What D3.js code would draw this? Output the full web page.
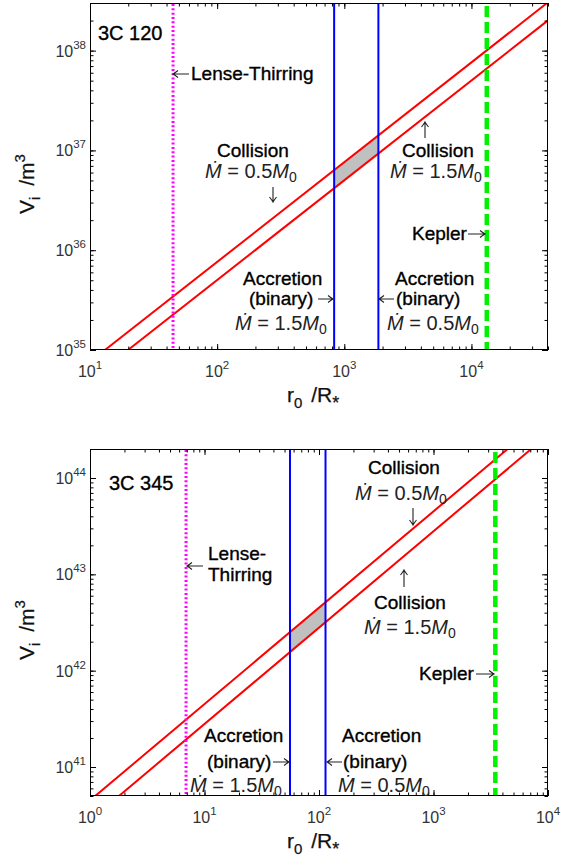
<!DOCTYPE html>
<html>
<head>
<meta charset="utf-8">
<script src="https://cdn.jsdelivr.net/npm/d3@7"></script>
<style>
  body { margin: 0; background: #fff; }
  svg { display: block; }
  text { font-family: "Liberation Sans", Arial, sans-serif; }
</style>
</head>
<body>
<svg id="chart" width="561" height="865"></svg>
<script>
// ---- 3C 120 (upper panel) ----
const topXDomain = [10, 4e4];
const topYDomain = [1e35, 3e38];
const topXTicks = [1, 2, 3, 4];
const topYTicks = [35, 36, 37, 38];
const topLowRateR = [13.1, 4e4];      // collision, Mdot = 0.5 M0
const topLowRateV = [1e35, 3.05e38];
const topHighRateR = [19.9, 4e4];     // collision, Mdot = 1.5 M0
const topHighRateV = [1e35, 2.01e38];
const topAccretion = [832, 1854];     // binary accretion, 1.5 M0 and 0.5 M0
const topLense = 45;
const topKepler = 13200;

// ---- 3C 345 (lower panel) ----
const botXDomain = [1, 1e4];
const botYDomain = [5e40, 2e44];
const botXTicks = [0, 1, 2, 3, 4];
const botYTicks = [41, 42, 43, 44];
const botLowRateR = [1.11, 4440];
const botLowRateV = [5e40, 2e44];
const botHighRateR = [1.79, 7140];
const botHighRateV = [5e40, 2e44];
const botAccretion = [55.8, 114];
const botLense = 6.9;
const botKepler = 3467;

const LEFT = 90, RIGHT = 548, PH = 347;

const mathDot = (rate) => [
  {t: "\u1E40", it: true}, {t: " = " + rate}, {t: "M", it: true}, {t: "0", sub: true}
];

const panels = [
  {
    name: "3C 120", top: 3,
    xDom: topXDomain, yDom: topYDomain, xExp: topXTicks, yExp: topYTicks,
    low: [topLowRateR, topLowRateV], high: [topHighRateR, topHighRateV],
    acc: topAccretion, lense: topLense, kepler: topKepler,
    notes: [
      {x: 98, y: 40, size: 20, s: "3C 120"},
      {x: 191, y: 80, s: "Lense-Thirring"},
      {x: 217, y: 157, s: "Collision"},
      {x: 205, y: 178, math: mathDot("0.5")},
      {x: 402, y: 157, s: "Collision"},
      {x: 390, y: 178, math: mathDot("1.5")},
      {x: 412, y: 240, s: "Kepler"},
      {x: 243, y: 285, s: "Accretion"},
      {x: 249, y: 305, s: "(binary)"},
      {x: 235, y: 330, math: mathDot("1.5")},
      {x: 395, y: 285, s: "Accretion"},
      {x: 396, y: 305, s: "(binary)"},
      {x: 387, y: 330, math: mathDot("0.5")}
    ],
    arrows: [
      {dir: "left", x: 173, y: 74, len: 16},
      {dir: "down", x: 273, y: 202, len: 15},
      {dir: "up", x: 425, y: 122, len: 16},
      {dir: "right", x: 485, y: 234, len: 17},
      {dir: "right", x: 333, y: 299, len: 15},
      {dir: "left", x: 379, y: 299, len: 15}
    ]
  },
  {
    name: "3C 345", top: 449,
    xDom: botXDomain, yDom: botYDomain, xExp: botXTicks, yExp: botYTicks,
    low: [botLowRateR, botLowRateV], high: [botHighRateR, botHighRateV],
    acc: botAccretion, lense: botLense, kepler: botKepler,
    notes: [
      {x: 109, y: 490, size: 20, s: "3C 345"},
      {x: 368, y: 474, s: "Collision"},
      {x: 355, y: 500, math: mathDot("0.5")},
      {x: 208, y: 560, s: "Lense-"},
      {x: 208, y: 581, s: "Thirring"},
      {x: 374, y: 609, s: "Collision"},
      {x: 364, y: 634, math: mathDot("1.5")},
      {x: 419, y: 680, s: "Kepler"},
      {x: 204, y: 742, s: "Accretion"},
      {x: 207, y: 768, s: "(binary)"},
      {x: 190, y: 792, math: mathDot("1.5")},
      {x: 342, y: 742, s: "Accretion"},
      {x: 343, y: 768, s: "(binary)"},
      {x: 338, y: 792, math: mathDot("0.5")}
    ],
    arrows: [
      {dir: "left", x: 187, y: 566, len: 16},
      {dir: "down", x: 413, y: 525, len: 17},
      {dir: "up", x: 404, y: 570, len: 17},
      {dir: "right", x: 494, y: 674, len: 18},
      {dir: "right", x: 289, y: 762, len: 16},
      {dir: "left", x: 327, y: 762, len: 15}
    ]
  }
];

const svg = d3.select("#chart");
svg.append("rect").attr("width", 561).attr("height", 865).attr("fill", "#fff");

// value of a straight log-log line (given by its two end points) at r
const lineAt = (line, r) => {
  const [rs, vs] = line;
  const t = (Math.log10(r) - Math.log10(rs[0])) / (Math.log10(rs[1]) - Math.log10(rs[0]));
  return Math.pow(10, Math.log10(vs[0]) + t * (Math.log10(vs[1]) - Math.log10(vs[0])));
};

const minorTicks = dom => {
  const out = [];
  for (let e = Math.floor(Math.log10(dom[0])); e <= Math.ceil(Math.log10(dom[1])); e++) {
    for (let k = 1; k <= 9; k++) {
      const v = k * Math.pow(10, e);
      if (v >= dom[0] * 0.999 && v <= dom[1] * 1.001) out.push(v);
    }
  }
  return out;
};

// thin LaTeX-like arrow, (x, y) is the tip
const arrowPath = (a) => {
  const h = 5, w = 3.5;
  if (a.dir === "right") return `M${a.x - a.len},${a.y}H${a.x}M${a.x - h},${a.y - w}Q${a.x - 1.5},${a.y - 0.8} ${a.x},${a.y}Q${a.x - 1.5},${a.y + 0.8} ${a.x - h},${a.y + w}`;
  if (a.dir === "left") return `M${a.x + a.len},${a.y}H${a.x}M${a.x + h},${a.y - w}Q${a.x + 1.5},${a.y - 0.8} ${a.x},${a.y}Q${a.x + 1.5},${a.y + 0.8} ${a.x + h},${a.y + w}`;
  if (a.dir === "down") return `M${a.x},${a.y - a.len}V${a.y}M${a.x - w},${a.y - h}Q${a.x - 0.8},${a.y - 1.5} ${a.x},${a.y}Q${a.x + 0.8},${a.y - 1.5} ${a.x + w},${a.y - h}`;
  return `M${a.x},${a.y + a.len}V${a.y}M${a.x - w},${a.y + h}Q${a.x - 0.8},${a.y + 1.5} ${a.x},${a.y}Q${a.x + 0.8},${a.y + 1.5} ${a.x + w},${a.y + h}`;
};

panels.forEach((p, i) => {
  const bottom = p.top + PH;
  const x = d3.scaleLog().domain(p.xDom).range([LEFT, RIGHT]);
  const y = d3.scaleLog().domain(p.yDom).range([bottom, p.top]);

  const g = svg.append("g").attr("class", "panel");
  const clipId = "clip" + i;
  g.append("clipPath").attr("id", clipId)
    .append("rect").attr("x", LEFT).attr("y", p.top).attr("width", RIGHT - LEFT).attr("height", PH);

  const plot = g.append("g").attr("clip-path", "url(#" + clipId + ")");

  // shaded overlap between the accretion limits and the two collision lines
  const band = [
    [p.acc[0], lineAt(p.low, p.acc[0])],
    [p.acc[1], lineAt(p.low, p.acc[1])],
    [p.acc[1], lineAt(p.high, p.acc[1])],
    [p.acc[0], lineAt(p.high, p.acc[0])]
  ];
  plot.append("path")
    .attr("d", d3.line().x(d => x(d[0])).y(d => y(d[1]))(band) + "Z")
    .attr("fill", "#c0c0c0");

  [p.low, p.high].forEach(line => {
    const pts = line[0].map((r, j) => [r, line[1][j]]);
    plot.append("path")
      .attr("d", d3.line().x(d => x(d[0])).y(d => y(d[1]))(pts))
      .attr("fill", "none")
      .attr("stroke", "#ff0000")
      .attr("stroke-width", 2);
  });

  p.acc.forEach(r => {
    plot.append("line")
      .attr("x1", x(r)).attr("x2", x(r)).attr("y1", p.top).attr("y2", bottom)
      .attr("stroke", "#0000ff").attr("stroke-width", 2);
  });

  plot.append("line")
    .attr("x1", x(p.lense)).attr("x2", x(p.lense)).attr("y1", p.top + 1).attr("y2", bottom)
    .attr("stroke", "#ff00ff").attr("stroke-width", 3)
    .attr("stroke-dasharray", "2,2.33");

  plot.append("line")
    .attr("x1", x(p.kepler)).attr("x2", x(p.kepler)).attr("y1", p.top + 3).attr("y2", bottom)
    .attr("stroke", "#00f000").attr("stroke-width", 4.5)
    .attr("stroke-dasharray", "11,5");

  // axes: inward ticks on all four sides
  const xMinor = minorTicks(p.xDom), yMinor = minorTicks(p.yDom);
  const xMajor = p.xExp.map(e => Math.pow(10, e)), yMajor = p.yExp.map(e => Math.pow(10, e));
  const axes = [
    [d3.axisBottom(x), bottom, "x", xMinor, xMajor],
    [d3.axisTop(x), p.top, "x", xMinor, xMajor],
    [d3.axisLeft(y), LEFT, "y", yMinor, yMajor],
    [d3.axisRight(y), RIGHT, "y", yMinor, yMajor]
  ];
  axes.forEach(([ax, pos, dir, minor, major]) => {
    [[minor, 3.5], [major, 6]].forEach(([vals, len]) => {
      const a = g.append("g")
        .attr("transform", dir === "x" ? "translate(0," + pos + ")" : "translate(" + pos + ",0)")
        .call(ax.tickValues(vals).tickFormat("").tickSizeInner(-len).tickSizeOuter(0));
      a.select(".domain").remove();
      a.selectAll("line").attr("stroke", "#000").attr("stroke-width", 1);
    });
  });

  g.append("rect")
    .attr("x", LEFT + 0.5).attr("y", p.top + 0.5)
    .attr("width", RIGHT - LEFT - 1).attr("height", PH - 1)
    .attr("fill", "none").attr("stroke", "#000").attr("stroke-width", 1);

  // tick labels 10^n
  const power = (sel, e) => {
    sel.append("tspan").text("10");
    sel.append("tspan").attr("dy", -8).attr("font-size", 11.5).text(e);
  };
  p.xExp.forEach(e => {
    g.append("text")
      .attr("x", x(Math.pow(10, e))).attr("y", bottom + 27)
      .attr("text-anchor", "middle").attr("font-size", 16).attr("fill", "#333")
      .call(power, e);
  });
  p.yExp.forEach(e => {
    g.append("text")
      .attr("x", LEFT - 4).attr("y", y(Math.pow(10, e)) + 6)
      .attr("text-anchor", "end").attr("font-size", 16).attr("fill", "#333")
      .call(power, e);
  });

  // axis titles
  const xt = g.append("text").attr("x", 287).attr("y", bottom + 52).attr("font-size", 21)
    .attr("fill", "#111").attr("stroke", "#111").attr("stroke-width", 0.25);
  xt.append("tspan").text("r");
  xt.append("tspan").attr("dy", 6).attr("font-size", 15).text("0");
  xt.append("tspan").attr("dy", -6).attr("dx", 3).text(" /R");
  xt.append("tspan").attr("dy", 7).attr("font-size", 18).text("*");

  const yt = g.append("text")
    .attr("transform", "translate(34," + (p.top + 211) + ") rotate(-90)")
    .attr("font-size", 21).attr("fill", "#111").attr("stroke", "#111").attr("stroke-width", 0.25);
  yt.append("tspan").text("V");
  yt.append("tspan").attr("dy", 6).attr("font-size", 15).text("i");
  yt.append("tspan").attr("dy", -6).attr("dx", 5).text(" /m");
  yt.append("tspan").attr("dy", -9).attr("font-size", 15).text("3");

  // annotations
  p.notes.forEach(n => {
    const t = g.append("text")
      .attr("x", n.x).attr("y", n.y)
      .attr("font-size", n.size || 19)
      .attr("fill", "#000");
    if (n.math) {
      t.attr("font-family", "'Liberation Serif', 'Times New Roman', serif")
        .attr("font-size", 20).attr("fill", "#222");
      n.math.forEach(seg => {
        const ts = t.append("tspan").text(seg.t);
        if (seg.it) ts.attr("font-style", "italic");
        if (seg.sub) ts.attr("dy", 4).attr("font-size", 14);
      });
    } else {
      t.attr("stroke", "#000").attr("stroke-width", 0.35).text(n.s);
    }
  });

  g.selectAll("path.arrow").data(p.arrows).join("path")
    .attr("class", "arrow")
    .attr("d", arrowPath)
    .attr("fill", "none").attr("stroke", "#222").attr("stroke-width", 1.1);
});
</script>
</body>
</html>
